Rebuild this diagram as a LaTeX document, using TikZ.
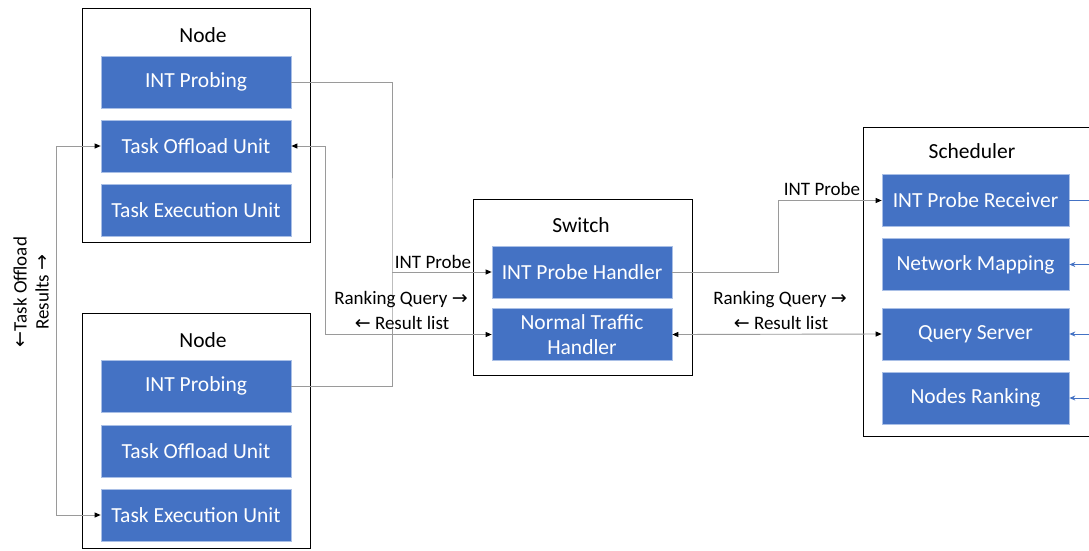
\documentclass[tikz,border=0pt]{standalone}
\usepackage{fontspec}
\setmainfont{Carlito}
\newfontfamily\arrowfont{DejaVu Sans}
\usetikzlibrary{arrows.meta}
\definecolor{unitblue}{HTML}{4472C4}
\definecolor{unitedge}{HTML}{A9BFE6}
\definecolor{wire}{HTML}{9A9A9A}
\newcommand{\ra}{{\arrowfont\fontsize{19}{19}\selectfont →}}
\newcommand{\la}{{\arrowfont\fontsize{19}{19}\selectfont ←}}
\begin{document}
\begin{tikzpicture}[x=1pt,y=-1pt,
  container/.style={draw=black,line width=0.9pt,fill=white,inner sep=0pt},
  unit/.style={draw=unitedge,line width=0.7pt,fill=unitblue,text=white,
    minimum height=52pt,inner sep=0pt,align=center,
    font=\fontsize{21.5}{23}\selectfont},
  title/.style={font=\fontsize{21.5}{23}\selectfont,inner sep=0pt},
  tag/.style={font=\fontsize{19}{21}\selectfont,inner sep=0pt},
  wire/.style={draw=wire,line width=0.9pt},
  tip/.style={-{Triangle[length=6pt,width=5pt,color=black]}},
  tips/.style={{Triangle[length=6pt,width=5pt,color=black]}-{Triangle[length=6pt,width=5pt,color=black]}},
  bluewire/.style={draw=unitblue,line width=0.9pt}]
\useasboundingbox (0,0) rectangle (1089,550);
\clip (0,0) rectangle (1089,550);
\fill[white] (0,0) rectangle (1089,550);

% edge node, upper
\node[container,minimum width=228pt,minimum height=234pt] (nodeA) at (196,125) {};
\node[title] at (203,35) {Node};
\node[unit,minimum width=190pt] (probeA) at (196,82) {INT Probing};
\node[unit,minimum width=190pt] (offA) at (196,146) {Task Offload Unit};
\node[unit,minimum width=190pt] (execA) at (196,210) {Task Execution Unit};

% edge node, lower
\node[container,minimum width=228pt,minimum height=235pt] (nodeB) at (196,430.5) {};
\node[title] at (203,340) {Node};
\node[unit,minimum width=190pt] (probeB) at (196,386) {INT Probing};
\node[unit,minimum width=190pt] (offB) at (196,451) {Task Offload Unit};
\node[unit,minimum width=190pt] (execB) at (196,515) {Task Execution Unit};

% switch
\node[container,minimum width=219pt,minimum height=176pt] (switch) at (582.5,287) {};
\node[title] at (581,225) {Switch};
\node[unit,minimum width=180pt] (handler) at (582,272) {INT Probe Handler};
\node[unit,minimum width=180pt,font=\fontsize{21.5}{25}\selectfont] (normal) at (582,334.5) {Normal Traffic\\Handler};

% scheduler (runs on past the right edge)
\node[container,minimum width=240pt,minimum height=309pt] (sched) at (983,281.5) {};
\node[title] at (972,151) {Scheduler};
\node[unit,minimum width=187pt] (receiver) at (975.5,200.5) {INT Probe Receiver};
\node[unit,minimum width=187pt] (mapping) at (975.5,264.5) {Network Mapping};
\node[unit,minimum width=187pt] (qserver) at (975.5,334) {Query Server};
\node[unit,minimum width=187pt] (ranking) at (975.5,398) {Nodes Ranking};

% probes from both edge nodes to the switch
\coordinate (probeJoin) at (392,272);
\draw[wire] (probeA.east) -| (probeJoin) |- (probeB.east);
\draw[wire,tip] (probeJoin) -- (handler.west);
\node[tag] at (433,262) {INT Probe};

% ranking query / result list between upper node and switch
\coordinate (qTurn) at (325,334.5);
\draw[wire,tips] (offA.east) -| (qTurn) -- (normal.west);
\node[tag] at (401,300) {Ranking Query \ra};
\node[tag] at (402,323) {\la\ Result list};

% task offload / results between the two edge nodes
\coordinate (tA) at (56,146);
\coordinate (tB) at (56,515);
\draw[wire,tip] (tA) -- (offA.west);
\draw[wire,tip] (tB) -- (execB.west);
\draw[wire] (tA) -- (tB);
\node[tag,rotate=90,align=center,font=\fontsize{19}{22}\selectfont] at (31,292)
  {\la Task Offload\\Results \ra};

% switch to scheduler
\coordinate (pTurn) at (778,272);
\draw[wire,tip] (handler.east) -- (pTurn) |- (receiver.west);
\node[tag] at (822,189) {INT Probe};
\draw[wire,tips] (normal.east) -- (qserver.west);
\node[tag] at (780,300) {Ranking Query \ra};
\node[tag] at (781,323) {\la\ Result list};

% internal scheduler links leaving on the right
\coordinate (outR) at (1095,200.5);
\coordinate (inM) at (1095,264.5);
\coordinate (inQ) at (1095,334);
\coordinate (inN) at (1095,398);
\draw[bluewire] (receiver.east) -- (outR);
\draw[bluewire,-{Stealth[length=6pt,width=5pt]}] (inM) -- (mapping.east);
\draw[bluewire,-{Stealth[length=6pt,width=5pt]}] (inQ) -- (qserver.east);
\draw[bluewire,-{Stealth[length=6pt,width=5pt]}] (inN) -- (ranking.east);
\end{tikzpicture}
\end{document}
